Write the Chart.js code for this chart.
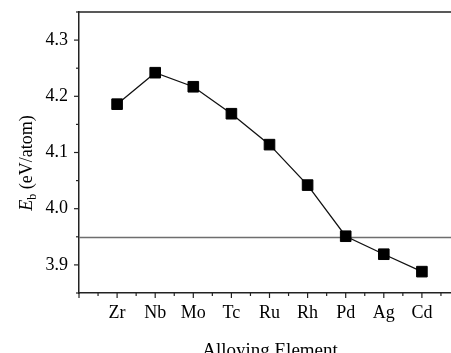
<!DOCTYPE html>
<html>
<head>
<meta charset="utf-8">
<script src="https://cdn.jsdelivr.net/npm/chart.js@4/dist/chart.umd.min.js"></script>
<style>
  html, body { margin: 0; padding: 0; background: #fff; overflow: hidden; }
  #wrap { position: relative; width: 470px; height: 353px; }
</style>
</head>
<body>
<div id="wrap"><canvas id="myChart"></canvas></div>
<script>
const elements = ['Zr', 'Nb', 'Mo', 'Tc', 'Ru', 'Rh', 'Pd', 'Ag', 'Cd']
const energies = [4.186, 4.242, 4.217, 4.169, 4.114, 4.042, 3.951, 3.919, 3.888]
const yTicks = [3.9, 4.0, 4.1, 4.2, 4.3]
const refLine = 3.95

const serif = '"Liberation Serif", "Times New Roman", serif'

// ticks, frame, reference line and the y title (needs italic E + subscript b)
const extras = {
    id: 'extras',
    beforeDatasetsDraw(chart) {
        const c = chart.ctx, a = chart.chartArea
        const x = chart.scales.x, y = chart.scales.y
        c.save()
        // horizontal reference line
        c.strokeStyle = '#6e6e6e'
        c.lineWidth = 1.5
        const yl = Math.round(y.getPixelForValue(refLine)) + 0.5
        c.beginPath(); c.moveTo(a.left, yl); c.lineTo(a.right, yl); c.stroke()
        // top frame
        c.strokeStyle = '#222'
        c.lineWidth = 1.5
        c.beginPath(); c.moveTo(a.left, a.top); c.lineTo(a.right, a.top); c.stroke()
        // y ticks
        c.lineWidth = 1.2
        for (let v = 3.85; v <= 4.351; v += 0.05) {
            const major = Math.abs(v * 10 - Math.round(v * 10)) < 0.01
            const py = y.getPixelForValue(v)
            c.beginPath(); c.moveTo(a.left, py); c.lineTo(a.left - (major ? 5 : 3), py); c.stroke()
        }
        // x ticks
        for (let i = -1; i <= 9.01; i += 0.5) {
            const major = Math.abs(i - Math.round(i)) < 0.01
            const px = x.getPixelForValue(i)
            c.beginPath(); c.moveTo(px, a.bottom); c.lineTo(px, a.bottom + (major ? 5 : 3)); c.stroke()
        }
        // y title
        c.fillStyle = '#000'
        c.translate(32, 163)
        c.rotate(-Math.PI / 2)
        c.textBaseline = 'alphabetic'
        const e = 'italic 18px ' + serif, b = '12px ' + serif, r = '18px ' + serif
        c.font = e; const we = c.measureText('E').width
        c.font = b; const wb = c.measureText('b').width
        c.font = r; const wr = c.measureText(' (eV/atom)').width
        let sx = -(we + wb + wr) / 2
        c.font = e; c.fillText('E', sx, 0); sx += we
        c.font = b; c.fillText('b', sx, 4); sx += wb
        c.font = r; c.fillText(' (eV/atom)', sx, 0)
        c.restore()
        // x title
        c.save()
        c.font = '19px ' + serif
        c.fillStyle = '#000'
        c.textAlign = 'center'
        c.fillText('Alloying Element', 270, 356)
        c.restore()
    }
}

const ctx = document.getElementById('myChart').getContext('2d')
const myChart = new Chart(ctx, {
    type: 'line',
    data: {
        datasets: [{
            data: energies.map((v, i) => ({x: i, y: v})),
            borderColor: '#111',
            borderWidth: 1.3,
            backgroundColor: '#000',
            pointStyle: 'rect',
            pointRadius: 7.5,
            pointBorderColor: '#000',
            pointBorderWidth: 1,
            tension: 0
        }]
    },
    options: {
        responsive: true,
        maintainAspectRatio: false,
        animation: false,
        layout: {padding: {top: 12, right: 10, left: 0, bottom: 0}},
        plugins: {legend: {display: false}, tooltip: {enabled: false}},
        scales: {
            x: {
                type: 'linear',
                min: -1,
                max: 9,
                grid: {display: false, drawTicks: false},
                border: {display: true, color: '#222', width: 1.5},
                afterBuildTicks: (s) => { s.ticks = elements.map((_, i) => ({value: i})) },
                afterFit: (s) => { s.height = 60; s.paddingLeft = 0; s.paddingRight = 0 },
                ticks: {
                    autoSkip: false,
                    maxRotation: 0,
                    padding: 9,
                    color: '#000',
                    font: {family: serif, size: 18},
                    callback: (v) => elements[v]
                }
            },
            y: {
                min: 3.85,
                max: 4.35,
                grid: {display: false, drawTicks: false},
                border: {display: true, color: '#222', width: 1.5},
                afterBuildTicks: (s) => { s.ticks = yTicks.map(v => ({value: v})) },
                afterFit: (s) => { s.width = 79; s.paddingTop = 0; s.paddingBottom = 0 },
                ticks: {
                    padding: 11,
                    color: '#000',
                    font: {family: serif, size: 18},
                    callback: (v) => v.toFixed(1)
                }
            }
        }
    },
    plugins: [extras]
})
</script>
</body>
</html>
